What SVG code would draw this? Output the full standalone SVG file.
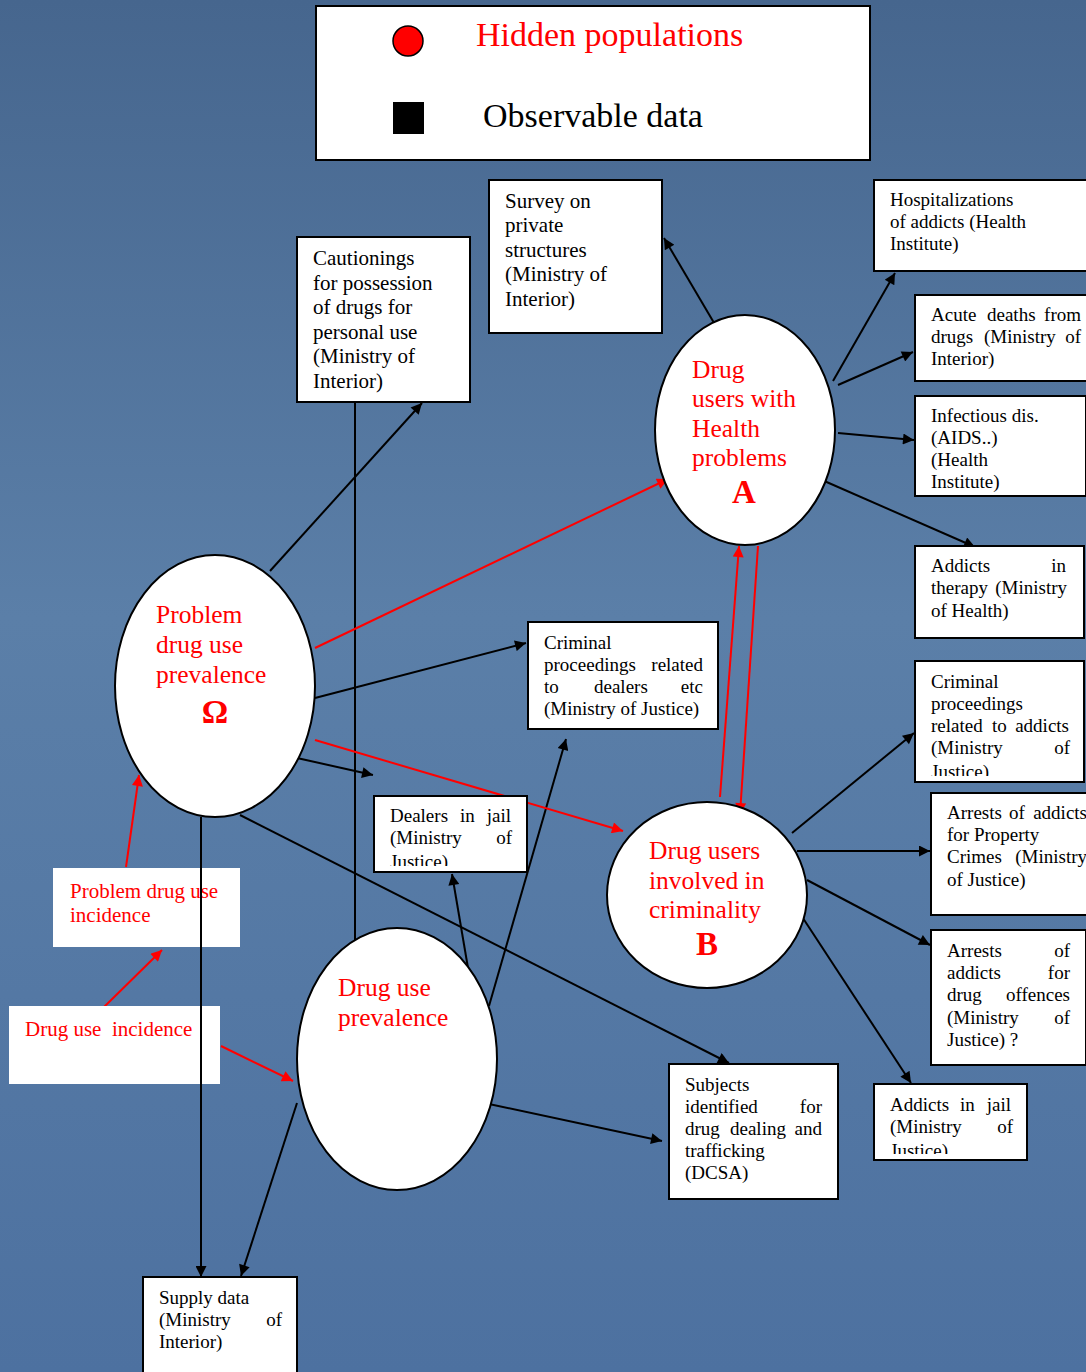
<svg xmlns="http://www.w3.org/2000/svg" width="1086" height="1372" viewBox="0 0 1086 1372">
<defs>
<linearGradient id="bg" x1="0" y1="0" x2="0" y2="1">
<stop offset="0" stop-color="#46668e"/>
<stop offset="0.45" stop-color="#5b7fa8"/>
<stop offset="1" stop-color="#4d71a0"/>
</linearGradient>
<marker id="ab" viewBox="0 0 10 10" refX="10" refY="5" markerWidth="15" markerHeight="11" markerUnits="userSpaceOnUse" orient="auto"><path d="M0,0 L10,5 L0,10 Z" fill="#000"/></marker>
<marker id="ar" viewBox="0 0 10 10" refX="10" refY="5" markerWidth="15" markerHeight="11" markerUnits="userSpaceOnUse" orient="auto"><path d="M0,0 L10,5 L0,10 Z" fill="#ff0000"/></marker>
<clipPath id="c1"><rect x="915" y="661" width="170" height="115"/></clipPath>
<clipPath id="c2"><rect x="374" y="796" width="153" height="70"/></clipPath>
<clipPath id="c3"><rect x="874" y="1084" width="153" height="70"/></clipPath>
</defs>
<style>
.box{fill:#fff;stroke:#000;stroke-width:2}
.wbox{fill:#fff;stroke:none}
.ell{fill:#fff;stroke:#000;stroke-width:2}
.t{font-family:"Liberation Serif","Times New Roman",serif;font-size:19px;fill:#000}
.tl{font-family:"Liberation Serif","Times New Roman",serif;font-size:21px;fill:#000}
.e{text-anchor:end}
.rt{font-family:"Liberation Serif","Times New Roman",serif;font-size:25.5px;fill:#ff0000}
.rs{font-family:"Liberation Serif","Times New Roman",serif;font-size:21px;fill:#ff0000}
.big{font-family:"Liberation Serif","Times New Roman",serif;font-size:33px;font-weight:bold;fill:#ff0000;text-anchor:middle}
.lk{stroke:#000;stroke-width:2;fill:none;marker-end:url(#ab)}
.lr{stroke:#ff0000;stroke-width:2;fill:none;marker-end:url(#ar)}
.ln{stroke:#000;stroke-width:2;fill:none}
</style>
<rect x="0" y="0" width="1086" height="1372" fill="url(#bg)"/>

<g id="legend">
<rect x="316" y="6" width="554" height="154" class="box"/>
<circle cx="408" cy="41" r="15" fill="#ff0000" stroke="#000" stroke-width="1.5"/>
<rect x="393" y="102" width="31" height="32" fill="#000"/>
<text x="476" y="46" font-family="Liberation Serif, serif" font-size="34" fill="#ff0000">Hidden populations</text>
<text x="483" y="127" font-family="Liberation Serif, serif" font-size="34" fill="#000">Observable data</text>
</g>

<g id="connectors">
<line x1="720" y1="333" x2="664" y2="238" class="lk"/>
<line x1="833" y1="381" x2="895" y2="273" class="lk"/>
<line x1="838" y1="385" x2="913" y2="352" class="lk"/>
<line x1="838" y1="433" x2="914" y2="440" class="lk"/>
<line x1="822" y1="480" x2="975" y2="547" class="lk"/>
<line x1="792" y1="833" x2="914" y2="733" class="lk"/>
<line x1="797" y1="851" x2="930" y2="851" class="lk"/>
<line x1="807" y1="880" x2="930" y2="945" class="lk"/>
<line x1="797" y1="909" x2="911" y2="1083" class="lk"/>
<line x1="270" y1="571" x2="422" y2="403" class="lk"/>
<line x1="355" y1="950" x2="355" y2="392" class="lk"/>
<line x1="315" y1="698" x2="526" y2="643" class="lk"/>
<line x1="297" y1="758" x2="373" y2="775" class="lk"/>
<line x1="240" y1="815" x2="729" y2="1063" class="lk"/>
<line x1="201" y1="817" x2="201" y2="1277" class="lk"/>
<line x1="297" y1="1103" x2="241" y2="1276" class="lk"/>
<line x1="468" y1="968" x2="452" y2="874" class="lk"/>
<line x1="489" y1="1006" x2="566" y2="739" class="lk"/>
<line x1="489" y1="1104" x2="662" y2="1141" class="lk"/>
<line x1="315" y1="648" x2="668" y2="479" class="lr"/>
<line x1="315" y1="740" x2="623" y2="831" class="lr"/>
<line x1="720" y1="797" x2="739" y2="546" class="lr"/>
<line x1="758" y1="546" x2="740" y2="814" class="lr"/>
<line x1="126" y1="867" x2="139" y2="775" class="lr"/>
<line x1="104" y1="1007" x2="162" y2="950" class="lr"/>
<line x1="221" y1="1046" x2="293" y2="1081" class="lr"/>
</g>

<g id="omega">
<ellipse cx="215" cy="686" rx="100" ry="131" class="ell"/>
<text class="rt"><tspan x="156" y="623">Problem</tspan><tspan x="156" y="653">drug use</tspan><tspan x="156" y="683">prevalence</tspan></text>
<text x="215" y="723" class="big">Ω</text>
</g>

<g id="nodeA">
<ellipse cx="745" cy="430" rx="90" ry="115" class="ell"/>
<text class="rt"><tspan x="692" y="378">Drug</tspan><tspan x="692" y="407">users with</tspan><tspan x="692" y="437">Health</tspan><tspan x="692" y="466">problems</tspan></text>
<text x="744" y="503" class="big">A</text>
</g>

<g id="nodeB">
<ellipse cx="707" cy="895" rx="100" ry="93" class="ell"/>
<text class="rt"><tspan x="649" y="859">Drug users</tspan><tspan x="649" y="889">involved in</tspan><tspan x="649" y="918">criminality</tspan></text>
<text x="707" y="955" class="big">B</text>
</g>

<g id="dup">
<ellipse cx="397" cy="1059" rx="100" ry="131" class="ell"/>
<text class="rt"><tspan x="338" y="996">Drug use</tspan><tspan x="338" y="1026">prevalence</tspan></text>
</g>

<g id="pdui">
<rect x="53" y="868" width="187" height="79" class="wbox"/>
<text class="rs"><tspan x="70" y="898">Problem drug use</tspan><tspan x="70" y="922">incidence</tspan></text>
</g>

<g id="dui">
<rect x="9" y="1006" width="211" height="78" class="wbox"/>
<text x="25" y="1036" class="rs" xml:space="preserve">Drug use  incidence</text>
</g>

<line x1="201" y1="868" x2="201" y2="947" class="ln"/>
<line x1="201" y1="1006" x2="201" y2="1084" class="ln"/>

<g id="cautionings">
<rect x="297" y="237" width="173" height="165" class="box"/>
<text class="tl"><tspan x="313" y="265">Cautionings</tspan><tspan x="313" y="290">for possession</tspan><tspan x="313" y="314">of drugs for</tspan><tspan x="313" y="339">personal use</tspan><tspan x="313" y="363">(Ministry of</tspan><tspan x="313" y="388">Interior)</tspan></text>
</g>

<g id="survey">
<rect x="489" y="180" width="173" height="153" class="box"/>
<text class="tl"><tspan x="505" y="208">Survey on</tspan><tspan x="505" y="232">private</tspan><tspan x="505" y="257">structures</tspan><tspan x="505" y="281">(Ministry of</tspan><tspan x="505" y="306">Interior)</tspan></text>
</g>

<g id="hosp">
<rect x="874" y="180" width="216" height="91" class="box"/>
<text class="t"><tspan x="890" y="206">Hospitalizations</tspan><tspan x="890" y="228">of addicts (Health</tspan><tspan x="890" y="250">Institute)</tspan></text>
</g>

<g id="acute">
<rect x="915" y="295" width="175" height="86" class="box"/>
<text class="t" x="931" y="321">Acute</text><text class="t" x="987" y="321">deaths</text><text class="t e" x="1081" y="321">from</text>
<text class="t" x="931" y="343">drugs</text><text class="t" x="984" y="343">(Ministry</text><text class="t e" x="1081" y="343">of</text>
<text class="t" x="931" y="365">Interior)</text>
</g>

<g id="infect">
<rect x="915" y="396" width="171" height="100" class="box"/>
<text class="t"><tspan x="931" y="422">Infectious dis.</tspan><tspan x="931" y="444">(AIDS..)</tspan><tspan x="931" y="466">(Health</tspan><tspan x="931" y="488">Institute)</tspan></text>
</g>

<g id="therapy">
<rect x="915" y="546" width="169" height="92" class="box"/>
<text class="t" x="931" y="572">Addicts</text><text class="t e" x="1066" y="572">in</text>
<text class="t" x="931" y="594">therapy</text><text class="t e" x="1067" y="594">(Ministry</text>
<text class="t" x="931" y="617">of Health)</text>
</g>

<g id="crimAddicts">
<rect x="915" y="661" width="169" height="121" class="box"/>
<g clip-path="url(#c1)">
<text class="t" x="931" y="688">Criminal</text>
<text class="t" x="931" y="710">proceedings</text>
<text class="t" x="931" y="732">related</text><text class="t" x="992" y="732">to</text><text class="t e" x="1069" y="732">addicts</text>
<text class="t" x="931" y="754">(Ministry</text><text class="t e" x="1070" y="754">of</text>
<text class="t" x="931" y="778">Justice)</text>
</g>
</g>

<g id="arrestProp">
<rect x="931" y="793" width="159" height="122" class="box"/>
<text class="t" x="947" y="819">Arrests</text><text class="t" x="1009" y="819">of</text><text class="t e" x="1087" y="819">addicts</text>
<text class="t" x="947" y="841">for Property</text>
<text class="t" x="947" y="863">Crimes</text><text class="t e" x="1087" y="863">(Ministry</text>
<text class="t" x="947" y="886">of Justice)</text>
</g>

<g id="arrestDrug">
<rect x="931" y="930" width="155" height="135" class="box"/>
<text class="t" x="947" y="957">Arrests</text><text class="t e" x="1070" y="957">of</text>
<text class="t" x="947" y="979">addicts</text><text class="t e" x="1070" y="979">for</text>
<text class="t" x="947" y="1001">drug</text><text class="t e" x="1070" y="1001">offences</text>
<text class="t" x="947" y="1024">(Ministry</text><text class="t e" x="1070" y="1024">of</text>
<text class="t" x="947" y="1046">Justice) ?</text>
</g>

<g id="addictsJail">
<rect x="874" y="1084" width="153" height="76" class="box"/>
<g clip-path="url(#c3)">
<text class="t" x="890" y="1111">Addicts</text><text class="t" x="960" y="1111">in</text><text class="t e" x="1011" y="1111">jail</text>
<text class="t" x="890" y="1133">(Ministry</text><text class="t e" x="1013" y="1133">of</text>
<text class="t" x="890" y="1157">Justice)</text>
</g>
</g>

<g id="subjects">
<rect x="669" y="1064" width="169" height="135" class="box"/>
<text class="t" x="685" y="1091">Subjects</text>
<text class="t" x="685" y="1113">identified</text><text class="t e" x="822" y="1113">for</text>
<text class="t" x="685" y="1135">drug</text><text class="t" x="730" y="1135">dealing</text><text class="t e" x="822" y="1135">and</text>
<text class="t" x="685" y="1157">trafficking</text>
<text class="t" x="685" y="1179">(DCSA)</text>
</g>

<g id="crimDealers">
<rect x="528" y="622" width="190" height="107" class="box"/>
<text class="t" x="544" y="649">Criminal</text>
<text class="t" x="544" y="671">proceedings</text><text class="t e" x="703" y="671">related</text>
<text class="t" x="544" y="693">to</text><text class="t" x="594" y="693">dealers</text><text class="t e" x="703" y="693">etc</text>
<text class="t" x="544" y="715">(Ministry of Justice)</text>
</g>

<g id="dealersJail">
<rect x="374" y="796" width="153" height="76" class="box"/>
<g clip-path="url(#c2)">
<text class="t" x="390" y="822">Dealers</text><text class="t" x="460" y="822">in</text><text class="t e" x="511" y="822">jail</text>
<text class="t" x="390" y="844">(Ministry</text><text class="t e" x="512" y="844">of</text>
<text class="t" x="390" y="868">Justice)</text>
</g>
</g>

<g id="supply">
<rect x="143" y="1277" width="154" height="100" class="box"/>
<text class="t" x="159" y="1304">Supply data</text>
<text class="t" x="159" y="1326">(Ministry</text><text class="t e" x="282" y="1326">of</text>
<text class="t" x="159" y="1348">Interior)</text>
</g>
</svg>
